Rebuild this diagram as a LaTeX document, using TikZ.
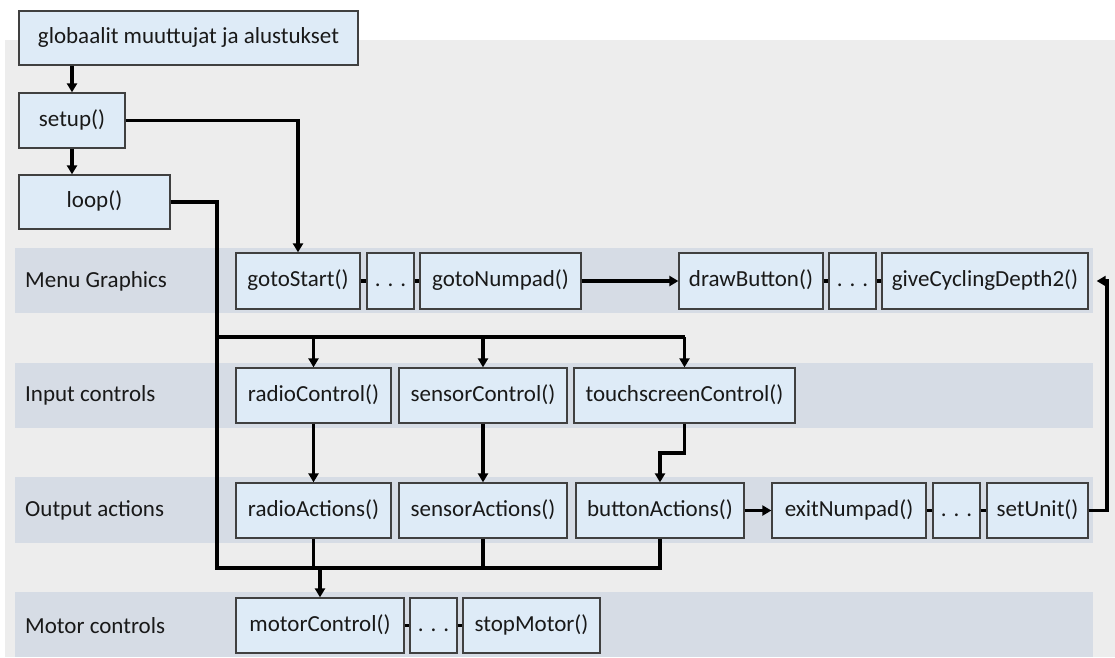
\documentclass[tikz,border=0pt]{standalone}
\usepackage{fontspec}
\setmainfont{Carlito}
\usetikzlibrary{arrows.meta,calc}
\definecolor{pagebg}{HTML}{EDEDED}
\definecolor{bandbg}{HTML}{D6DCE5}
\definecolor{boxbg}{HTML}{DEEBF7}
\definecolor{boxline}{HTML}{404040}
\tikzset{
  fn/.style={draw=boxline, fill=boxbg, line width=1.3pt, inner sep=0pt,
             text height=16pt, text depth=4.5pt,
             font=\fontsize{23}{27}\selectfont, text=black!90},
  rowlabel/.style={anchor=west, inner sep=0pt,
             font=\fontsize{23}{27}\selectfont, text=black!90},
  conn/.style={line width=3.3pt, black},
  arr/.style={conn, -{Triangle[width=10pt,length=9pt]}},
  link/.style={line width=3.3pt, black}
}
\begin{document}
\begin{tikzpicture}[x=1pt,y=-1pt]
\useasboundingbox (0,0) rectangle (1115,657);
% background and layer bands
\fill[pagebg] (5,40) rectangle (1115,657);
\fill[bandbg] (15,248) rectangle (1093,313);
\fill[bandbg] (15,363) rectangle (1093,428);
\fill[bandbg] (15,477) rectangle (1093,543);
\fill[bandbg] (15,592) rectangle (1093,657);
\node[rowlabel] (lmenu) at (25,281) {Menu Graphics};
\node[rowlabel] (linput) at (25,395.5) {Input controls};
\node[rowlabel] (loutput) at (25,510) {Output actions};
\node[rowlabel] (lmotor) at (25,625.5) {Motor controls};

% program skeleton
\node[fn, minimum width=339, minimum height=54] (glob) at (188.5,38) {globaalit muuttujat ja alustukset};
\node[fn, minimum width=106, minimum height=55] (setup) at (72,120.5) {setup()};
\node[fn, minimum width=151, minimum height=54] (loop) at (94.5,202) {loop()};

% menu graphics
\node[fn, minimum width=124, minimum height=56] (gs) at (298,281) {gotoStart()};
\node[fn, minimum width=47, minimum height=56] (d1) at (390.5,281) {. . .};
\node[fn, minimum width=161, minimum height=56] (gn) at (500.5,281) {gotoNumpad()};
\node[fn, minimum width=144, minimum height=56] (db) at (751,281) {drawButton()};
\node[fn, minimum width=47, minimum height=56] (d2) at (852.5,281) {. . .};
\node[fn, minimum width=206, minimum height=56] (gcd) at (985,281) {giveCyclingDepth2()};

% input controls
\node[fn, minimum width=155, minimum height=55] (rc) at (313.5,395.5) {radioControl()};
\node[fn, minimum width=168, minimum height=55] (sc) at (483,395.5) {sensorControl()};
\node[fn, minimum width=221, minimum height=55] (tc) at (684.5,395.5) {touchscreenControl()};

% output actions
\node[fn, minimum width=155, minimum height=55] (ra) at (313.5,510.5) {radioActions()};
\node[fn, minimum width=168, minimum height=55] (sa) at (483,510.5) {sensorActions()};
\node[fn, minimum width=168, minimum height=55] (ba) at (660,510.5) {buttonActions()};
\node[fn, minimum width=154, minimum height=55] (en) at (849,510.5) {exitNumpad()};
\node[fn, minimum width=47, minimum height=55] (d3) at (956.5,510.5) {. . .};
\node[fn, minimum width=101, minimum height=55] (su) at (1037.5,510.5) {setUnit()};

% motor controls
\node[fn, minimum width=168, minimum height=55] (mc) at (320,625.5) {motorControl()};
\node[fn, minimum width=47, minimum height=55] (d4) at (433.5,625.5) {. . .};
\node[fn, minimum width=137, minimum height=55] (sm) at (531.5,625.5) {stopMotor()};

% links between neighbouring functions
\draw[link] (gs.east) -- (d1.west);
\draw[link] (d1.east) -- (gn.west);
\draw[link] (db.east) -- (d2.west);
\draw[link] (d2.east) -- (gcd.west);
\draw[link] (en.east) -- (d3.west);
\draw[link] (d3.east) -- (su.west);
\draw[link] (mc.east) -- (d4.west);
\draw[link] (d4.east) -- (sm.west);

% control flow
\coordinate (busTop) at (217,337);
\coordinate (busBot) at (217,568);
\coordinate (jog) at (0,453);
\coordinate (ret) at (1107,0);

\draw[arr] (glob.south -| setup.north) -- (setup.north);
\draw[arr] (setup.south) -- (setup.south |- loop.north);
\draw[arr] (setup.east) -| (gs.north);
\draw[arr] (gn.east) -- (db.west);
\draw[arr] (ba.east) -- (en.west);

\draw[conn] (loop.east) -| (busBot) -| (ba.south);
\draw[conn] (busTop) -- (busTop -| tc.north);
\draw[arr] (busTop -| rc.north) -- (rc.north);
\draw[arr] (busTop -| sc.north) -- (sc.north);
\draw[arr] (busTop -| tc.north) -- (tc.north);

\draw[arr] (rc.south) -- (ra.north);
\draw[arr] (sc.south) -- (sa.north);
\draw[arr] (tc.south) -- (tc.south |- jog) -| (ba.north);

\draw[conn] (ra.south) -- (ra.south |- busBot);
\draw[conn] (sa.south) -- (sa.south |- busBot);
\draw[arr] (mc.north |- busBot) -- (mc.north);

\draw[arr, shorten >=8pt] (su.east) -- (su.east -| ret) |- (gcd.east);
\end{tikzpicture}
\end{document}
